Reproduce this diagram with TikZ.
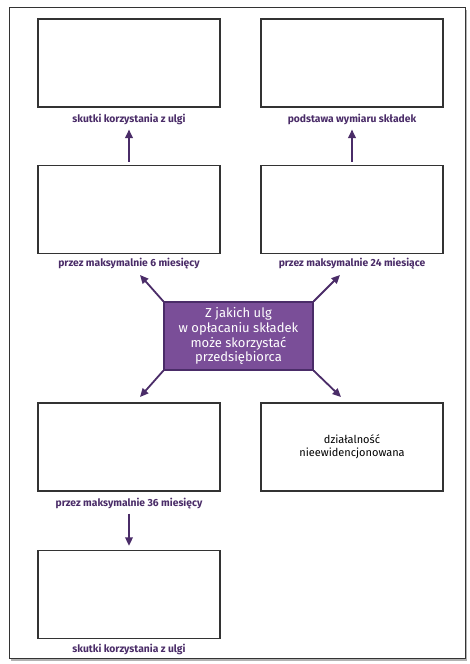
\documentclass[tikz,border=0pt]{standalone}
\usepackage{fontspec}
\setmainfont{Fira Sans}
\usetikzlibrary{arrows.meta}
\definecolor{ulgpurple}{HTML}{7A4E98}
\definecolor{ulgdark}{HTML}{4A2C68}
\definecolor{ulgframe}{HTML}{333333}
\begin{document}
\begin{tikzpicture}[x=1pt,y=-1pt,
    pole/.style={draw=ulgframe, line width=1.3pt, fill=white, minimum width=182pt, minimum height=88pt, inner sep=0pt},
    podpis/.style={text=ulgdark, font=\fontsize{10.3}{12}\selectfont\bfseries, inner sep=1pt},
    strzalka/.style={draw=ulgdark, line width=1.8pt, -{Triangle[width=7.5pt,length=8.5pt]}}]
    \useasboundingbox (0,0) rectangle (469,664);
    % frame with shadow
    \fill[gray!60] (11,10) rectangle (467,661);
    \draw[ulgframe, line width=1pt, fill=white] (9,7) rectangle (465,658);

    \node[pole] (tl) at (129,63) {};
    \node[pole] (tr) at (352,63) {};
    \node[pole] (ml) at (129,209.5) {};
    \node[pole] (mr) at (352,209.5) {};
    \node[pole] (bl) at (129,447) {};
    \node[pole, align=center, font=\fontsize{11}{13}\selectfont] (br) at (352,447) {działalność\\nieewidencjonowana};
    \node[pole] (dol) at (129,594.5) {};

    \node[draw=ulgdark, line width=1.3pt, fill=ulgpurple, text=white, minimum width=149pt, minimum height=68pt, align=center,
        font=\fontsize{13}{14.8}\selectfont, inner sep=1pt] (ulgi) at (238.5,336)
        {Z jakich ulg\\w opłacaniu składek\\może skorzystać\\przedsiębiorca};

    \node[podpis] (ptl) at (129,119) {skutki korzystania z ulgi};
    \node[podpis] (ptr) at (352,119) {podstawa wymiaru składek};
    \node[podpis] (pml) at (129,264) {przez maksymalnie 6 miesięcy};
    \node[podpis] (pmr) at (352,264) {przez maksymalnie 24 miesiące};
    \node[podpis] (pbl) at (129,504) {przez maksymalnie 36 miesięcy};
    \node[podpis] (pdol) at (129,649) {skutki korzystania z ulgi};

    \coordinate (a1) at (140,275); \coordinate (a2) at (340,275);
    \coordinate (a3) at (140,397); \coordinate (a4) at (341,397);

    % arrows
    \draw[strzalka] ([yshift=3pt]ml.north) -- ([yshift=-4pt]ptl.south);
    \draw[strzalka] ([yshift=3pt]mr.north) -- ([yshift=-4pt]ptr.south);
    \draw[strzalka] (ulgi.north west) -- (a1);
    \draw[strzalka] (ulgi.north east) -- (a2);
    \draw[strzalka] (ulgi.south west) -- (a3);
    \draw[strzalka] (ulgi.south east) -- (a4);
    \draw[strzalka] ([yshift=-3pt]pbl.south) -- ([yshift=4pt]dol.north);
\end{tikzpicture}
\end{document}
